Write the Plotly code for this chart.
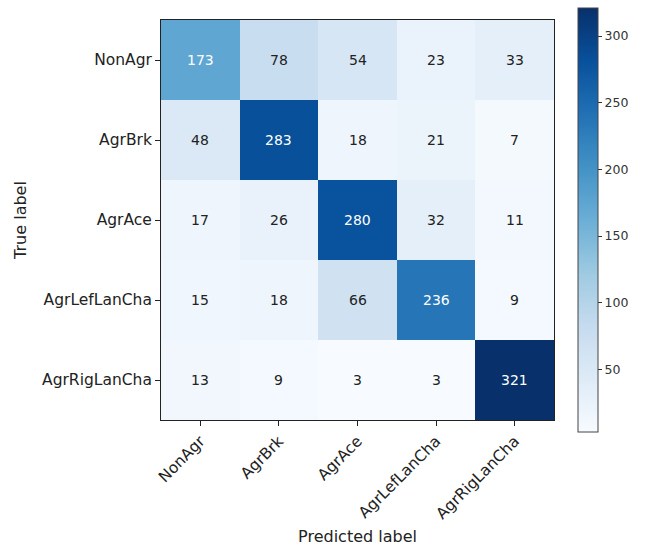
import plotly.graph_objects as go

classes = ["NonAgr", "AgrBrk", "AgrAce", "AgrLefLanCha", "AgrRigLanCha"]
counts = [
    [173, 78, 54, 23, 33],
    [48, 283, 18, 21, 7],
    [17, 26, 280, 32, 11],
    [15, 18, 66, 236, 9],
    [13, 9, 3, 3, 321],
]
cbar_ticks = [50, 100, 150, 200, 250, 300]

# matplotlib-style "Blues" colormap
blues = ["#f7fbff", "#deebf7", "#c6dbef", "#9ecae1", "#6baed6",
         "#4292c6", "#2171b5", "#08519c", "#08306b"]
colorscale = [[i / (len(blues) - 1), c] for i, c in enumerate(blues)]

zmin = min(min(r) for r in counts)
zmax = max(max(r) for r in counts)
thresh = zmax / 2.0

font = "DejaVu Sans"

fig = go.Figure(go.Heatmap(
    z=counts, x=classes, y=classes,
    colorscale=colorscale, zmin=zmin, zmax=zmax,
    xgap=0, ygap=0,
    colorbar=dict(
        tickvals=cbar_ticks, ticks="outside", ticklen=4, tickwidth=1,
        tickcolor="#333", thickness=20, len=424, lenmode="pixels",
        xpad=0, ypad=0,
        x=1.061, xanchor="left", y=0.5, yanchor="middle",
        outlinewidth=1, outlinecolor="#444",
        tickfont=dict(family=font, size=12.5, color="#333"),
    ),
    hoverinfo="skip",
))

annotations = []
for i, row in enumerate(counts):
    for j, v in enumerate(row):
        annotations.append(dict(
            x=classes[j], y=classes[i], text=str(v), showarrow=False,
            font=dict(family=font, size=14,
                      color="white" if v > thresh else "#222"),
        ))

fig.update_layout(
    width=649, height=546,
    margin=dict(l=161, r=95, t=20, b=126, autoexpand=False),
    paper_bgcolor="white", plot_bgcolor="white",
    annotations=annotations,
    font=dict(family=font, size=15, color="#222"),
    xaxis=dict(
        title=dict(text="Predicted label", font=dict(size=16), standoff=9),
        tickangle=-45, ticks="outside", ticklen=5, tickcolor="#222",
        showline=True, linecolor="#222", linewidth=1, mirror=True,
        showgrid=False, tickfont=dict(size=15.5), automargin=False,
    ),
    yaxis=dict(
        title=dict(text="True label", font=dict(size=16), standoff=11),
        autorange="reversed", ticks="outside", ticklen=5, tickcolor="#222",
        showline=True, linecolor="#222", linewidth=1, mirror=True,
        showgrid=False, tickfont=dict(size=15.5), automargin=False,
    ),
)

fig.write_html("out.html")
